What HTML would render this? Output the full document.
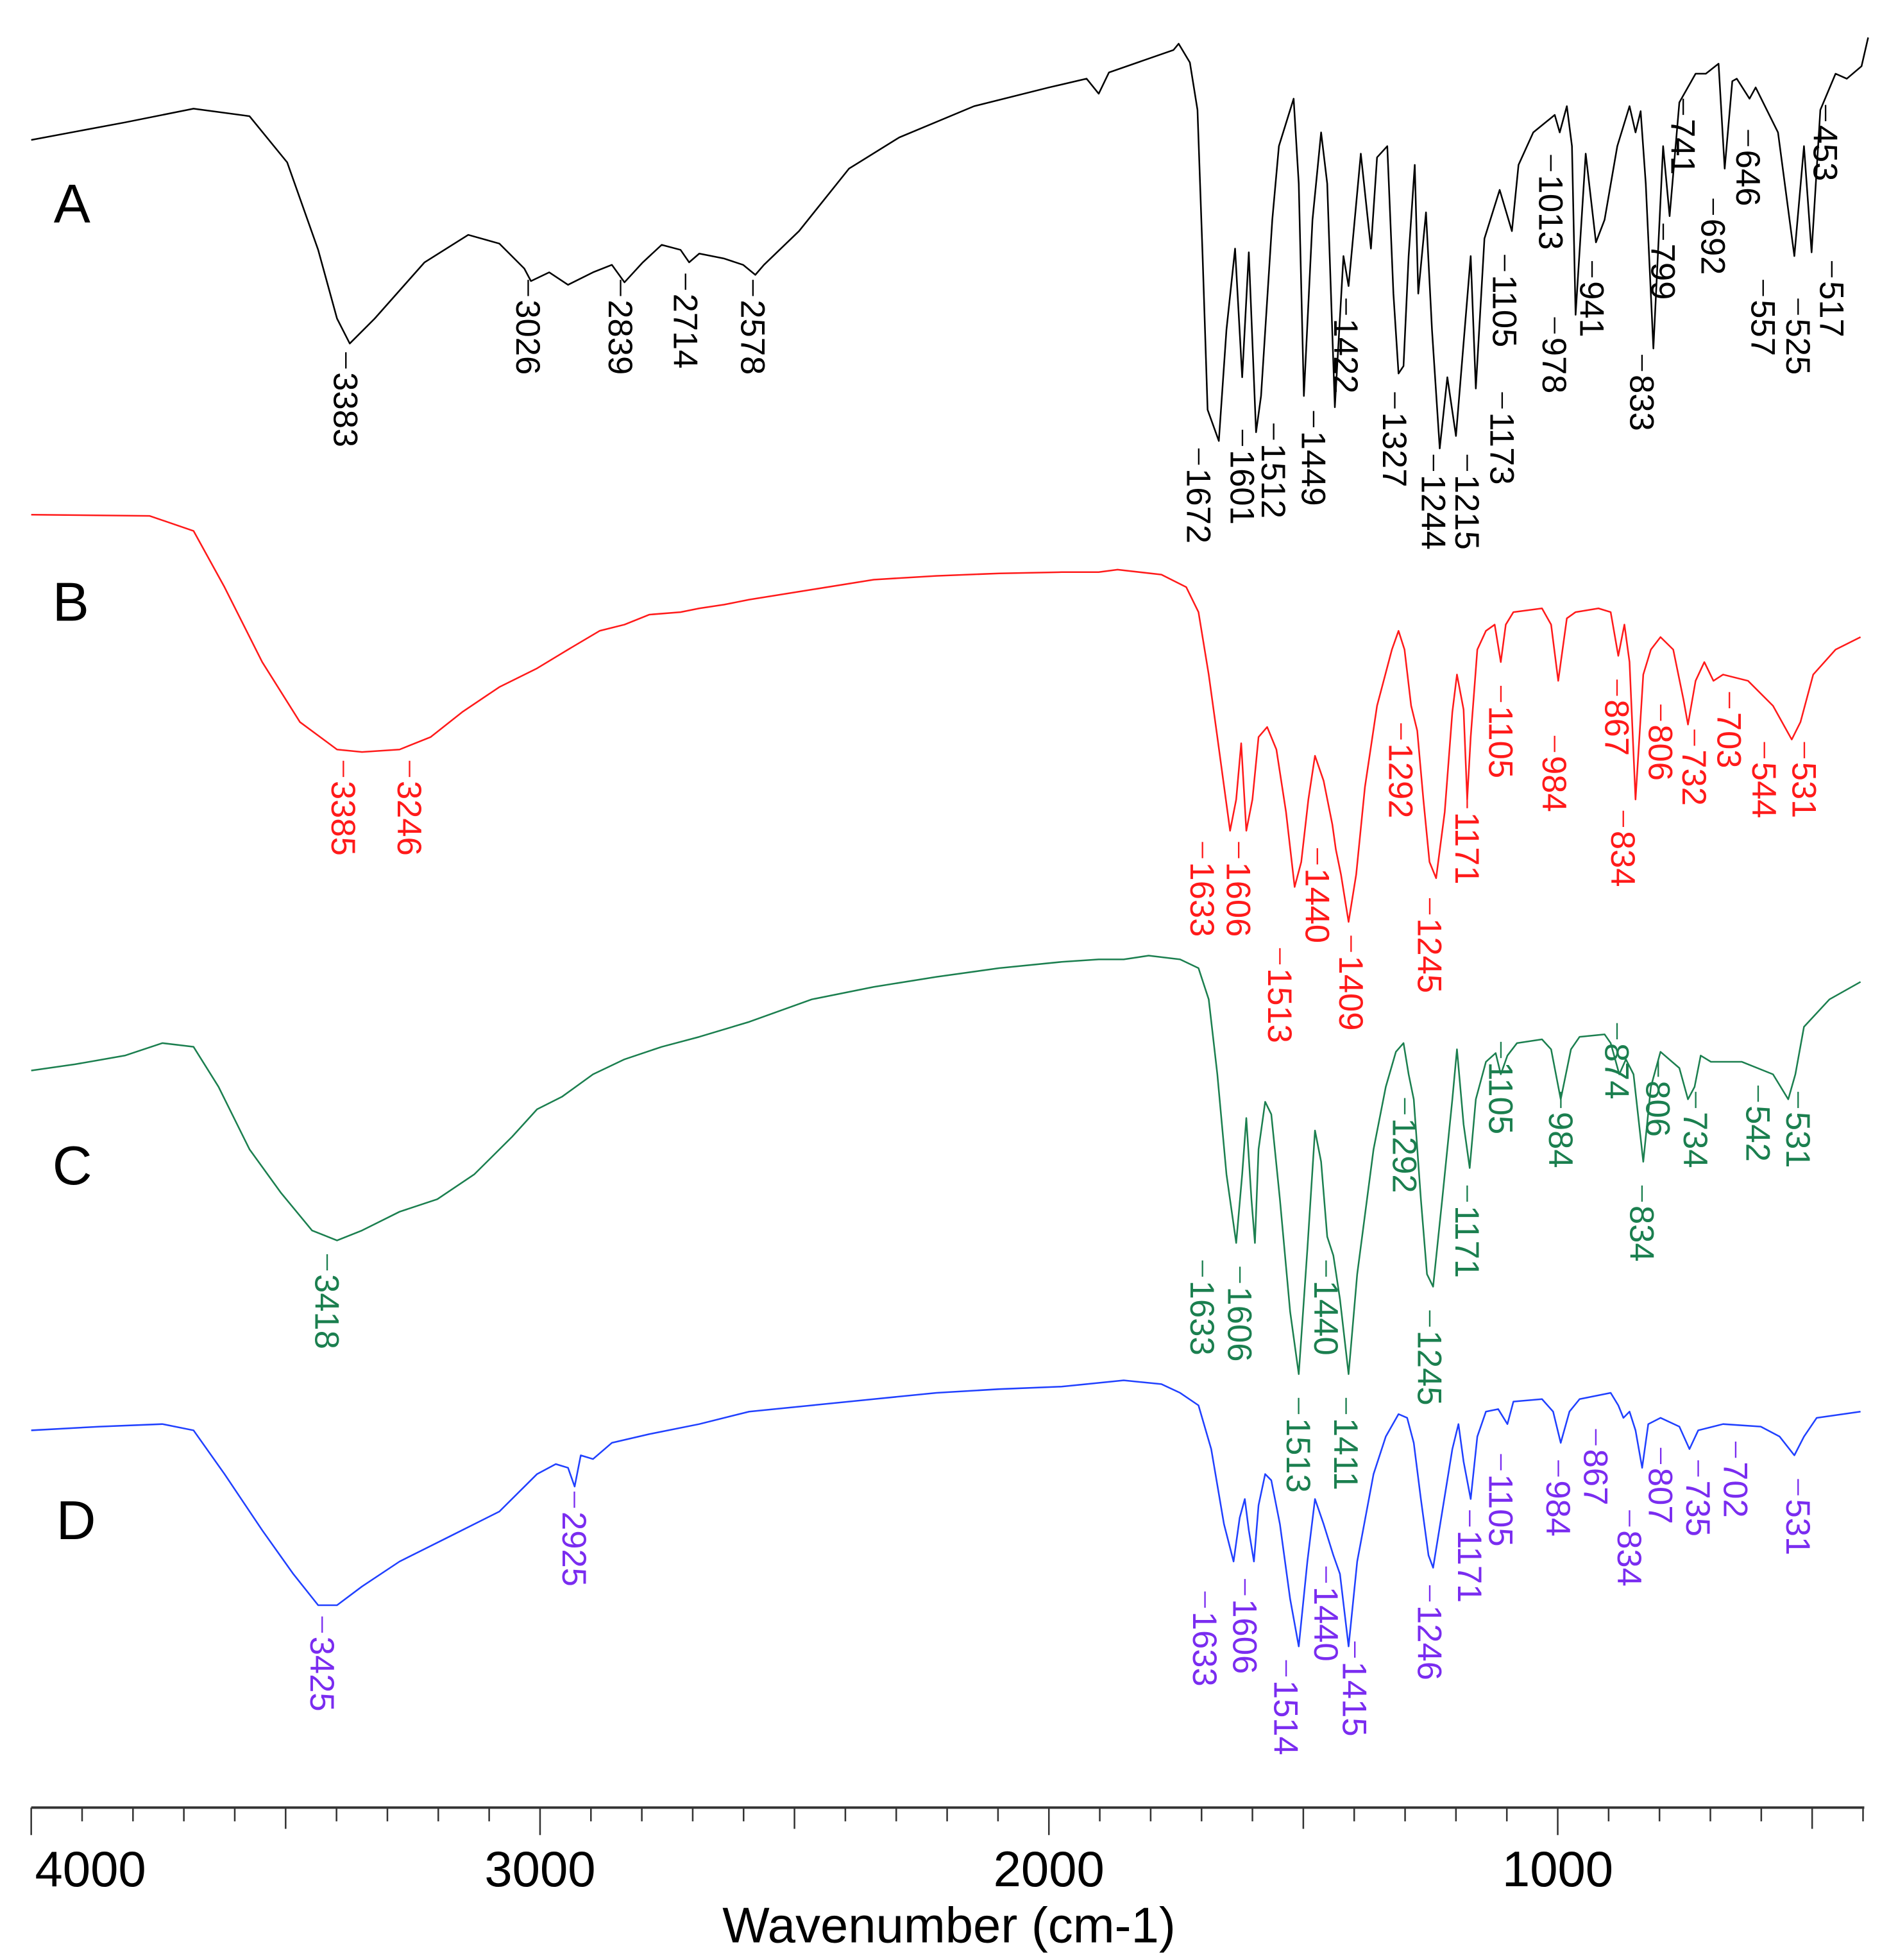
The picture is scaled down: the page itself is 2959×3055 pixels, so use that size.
<!DOCTYPE html>
<html><head><meta charset="utf-8"><style>
html,body{margin:0;padding:0;background:#fff;}
svg{display:block;}
text{font-family:"Liberation Sans",sans-serif;}
</style></head><body>
<svg id="chart" width="2959" height="3055" viewBox="0 0 1520 1569" preserveAspectRatio="none" xmlns="http://www.w3.org/2000/svg">
<g id="axis"></g>
<text x="760" y="1555" font-size="40" text-anchor="middle">Wavenumber (cm-1)</text>
<text x="43" y="178" font-size="44">A</text>
<text x="42" y="497" font-size="44">B</text>
<text x="42" y="948" font-size="44">C</text>
<text x="45" y="1232" font-size="44">D</text>
<g id="series"></g>
</svg>
<script>
const wnA=[4000,3816,3681,3571,3497,3436,3399,3374,3325,3227,3141,3080,3031,3018,2982,2945,2896,2859,2834,2798,2761,2724,2707,2687,2638,2601,2577,2560,2491,2393,2294,2147,2000,1926,1902,1882,1755,1745,1723,1708,1698,1688,1666,1651,1634,1620,1607,1593,1583,1561,1548,1519,1509,1499,1482,1465,1453,1438,1421,1411,1387,1367,1355,1335,1323,1313,1303,1293,1281,1274,1259,1247,1232,1217,1200,1171,1161,1144,1114,1090,1077,1048,1006,996,982,972,965,945,925,908,883,859,847,837,827,812,793,780,761,729,709,684,672,657,648,623,611,567,535,516,501,484,454,432,403,390];
const tA=[268,282,293,287,250,180,125,105,125,170,192,185,165,155,162,152,162,168,154,170,184,180,170,177,173,168,160,168,195,245,270,295,310,317,305,322,340,345,330,292,175,52,27,116,181,78,178,34,63,204,263,301,233,63,204,274,233,54,175,151,257,181,254,263,145,81,87,175,248,145,210,116,21,78,31,175,69,189,228,195,248,274,288,274,295,263,128,257,186,204,263,295,274,291,233,101,263,207,298,321,321,329,245,315,317,301,310,274,175,263,178,292,321,317,327,350];
const wnB=[4000,3767,3681,3620,3546,3472,3399,3350,3276,3215,3153,3080,3006,2945,2883,2834,2785,2724,2687,2638,2589,2466,2344,2221,2098,1975,1902,1865,1779,1730,1706,1686,1669,1644,1632,1622,1612,1600,1588,1571,1553,1534,1517,1504,1490,1477,1460,1443,1436,1426,1411,1396,1379,1355,1326,1313,1301,1288,1276,1264,1252,1239,1222,1207,1198,1185,1178,1171,1158,1141,1124,1112,1102,1087,1031,1013,999,982,965,920,896,881,869,859,847,832,817,798,773,753,744,729,712,694,675,626,577,540,523,498,454,405];
const tB=[348,347,335,290,230,182,160,158,160,170,190,210,225,240,255,260,268,270,273,276,280,288,296,299,301,302,302,304,300,290,270,220,170,95,120,165,95,120,170,178,160,110,50,70,120,155,135,100,80,60,22,60,130,195,240,255,240,195,175,120,70,57,110,190,220,192,120,170,240,255,260,230,260,270,273,260,215,265,270,273,270,235,260,230,120,220,240,250,240,200,180,215,230,215,220,215,195,168,182,220,240,250];
const wnC=[4000,3914,3816,3742,3681,3632,3571,3509,3448,3399,3350,3276,3202,3129,3055,3006,2957,2896,2834,2761,2687,2589,2466,2344,2221,2098,1975,1902,1853,1804,1742,1706,1686,1669,1651,1632,1620,1612,1602,1595,1588,1575,1563,1546,1526,1509,1492,1477,1465,1453,1441,1428,1411,1394,1362,1338,1318,1303,1293,1283,1269,1257,1245,1227,1207,1198,1185,1173,1161,1141,1122,1112,1099,1080,1031,1013,994,974,957,908,896,879,866,851,832,817,798,761,744,731,719,699,638,577,547,533,516,466,405];
const tC=[263,268,275,285,282,250,200,165,135,127,135,150,160,180,210,232,242,260,272,282,290,302,320,330,338,345,350,352,352,355,352,345,320,260,180,125,180,225,160,125,200,238,228,160,70,20,120,215,190,130,115,80,20,100,200,250,278,285,260,240,160,100,90,160,240,280,220,185,240,270,277,260,275,285,288,280,240,280,290,292,285,260,272,260,190,250,278,265,240,250,275,270,270,260,240,260,298,320,334];
const wnD=[4000,3865,3742,3681,3620,3546,3485,3436,3399,3350,3276,3178,3080,3006,2969,2945,2932,2920,2896,2859,2785,2687,2589,2466,2344,2221,2098,1975,1853,1779,1742,1706,1681,1656,1637,1625,1615,1607,1597,1588,1575,1563,1546,1526,1509,1492,1477,1460,1441,1428,1411,1394,1362,1338,1313,1296,1283,1269,1254,1245,1227,1207,1195,1185,1171,1158,1141,1117,1099,1087,1031,1009,994,977,957,896,881,871,859,847,834,822,798,761,741,724,675,601,564,535,516,491,405];
const tD=[195,198,200,195,160,115,80,55,55,70,90,110,130,160,168,165,150,175,172,185,192,200,210,215,220,225,228,230,235,232,225,215,180,120,90,125,140,115,90,135,160,155,120,60,22,90,140,120,95,80,22,90,160,190,208,205,185,140,95,85,130,180,200,170,140,190,210,212,200,218,220,210,185,210,220,225,215,205,210,195,165,200,205,198,180,195,200,198,190,175,190,205,210];
const labelsA=[3383,3026,2839,2714,2578,1672,1601,1512,1449,1422,1327,1244,1215,1173,1105,1013,978,941,833,799,741,692,646,557,525,517,453];
const labelTopA=[298,240,240,235,240,375,360,355,345,255,330,380,380,330,220,140,270,225,300,195,95,175,120,240,255,225,100];
const labelXA=[277,423,497,549,603,960,995,1020,1052,1078,1117,1148,1175,1203,1205,1242,1245,1275,1315,1332,1348,1372,1400,1412,1440,1467,1462];
const labelsB=[3385,3246,1633,1606,1513,1440,1409,1292,1245,1171,1105,984,867,834,806,732,703,544,531];
const labelTopB=[625,625,690,690,775,695,765,595,735,650,565,605,560,665,580,600,570,610,610];
const labelXB=[275,328,963,992,1025,1055,1082,1122,1145,1175,1202,1245,1295,1300,1330,1357,1385,1413,1445];
const labelsC=[3418,1633,1606,1513,1440,1411,1292,1245,1171,1105,984,874,834,806,734,542,531];
const labelTopC=[1020,1025,1030,1135,1025,1135,895,1065,965,850,890,835,965,865,890,885,890];
const labelXC=[262,963,993,1040,1062,1078,1125,1145,1175,1202,1250,1295,1315,1328,1358,1408,1440];
const labelsD=[3425,2925,1633,1606,1514,1440,1415,1246,1171,1105,984,867,834,807,735,702,531];
const labelTopD=[1310,1210,1290,1280,1345,1270,1330,1285,1225,1180,1185,1160,1225,1175,1185,1170,1200];
const labelXD=[258,460,965,997,1030,1062,1085,1145,1177,1202,1248,1278,1305,1330,1360,1390,1440];
const ticks=[4000,3000,2000,1000];

const NS="http://www.w3.org/2000/svg";
function xS(w){return 25+(4000-w)*0.4075;}
const axisY=1447;
const ax=document.getElementById('axis');
function mk(tag,attrs,parent){const e=document.createElementNS(NS,tag);for(const k in attrs)e.setAttribute(k,attrs[k]);parent.appendChild(e);return e;}
let al=mk('line',{x1:25,x2:1493,y1:axisY,y2:axisY,stroke:'#333','stroke-width':2},ax);


for(let w=4000;w>=400;w-=100){
  const len=(w%1000===0)?22:(w%500===0?17:11);
  const t=mk('line',{x1:xS(w),x2:xS(w),y1:axisY,y2:axisY+len,stroke:'#333','stroke-width':1.3},ax);
  
  
}
ticks.forEach(w=>{
  const t=mk('text',{x:w===4000?xS(w)+3:xS(w),y:1510,'font-size':40,'text-anchor':w===4000?'start':'middle'},ax);
  t.textContent=w;
  
  
});
const sg=document.getElementById('series');
function drawSeries(name,wn,tv,base,color,labels,tops,lx,lcolor){
  const g=mk('g',{},sg);
  
  
  let d='';
  wn.forEach((w,i)=>{d+=(i?'L':'M')+xS(w).toFixed(1)+' '+(base-tv[i]).toFixed(1);});
  const p=mk('path',{d:d,fill:'none',stroke:color,'stroke-width':1.3,'stroke-linejoin':'round'},g);
  
  
  labels.forEach((lb,i)=>{
    const x=lx[i],top=tops[i];
    const l=mk('line',{x1:x,x2:x,y1:top-16,y2:top-3,stroke:lcolor,'stroke-width':1.2},g);
    
    
    const t=mk('text',{x:0,y:0,'font-size':27,fill:lcolor,transform:'translate('+(x-9.5)+','+top+') rotate(90)'},g);
    t.textContent=lb;
    
    
  });
}
drawSeries('spectrum-a',wnA,tA,380,'#000',labelsA,labelTopA,labelXA,'#000');
drawSeries('spectrum-b',wnB,tB,760,'#ff1a1a',labelsB,labelTopB,labelXB,'#ff1a1a');
drawSeries('spectrum-c',wnC,tC,1120,'#1b7f4f',labelsC,labelTopC,labelXC,'#1b7f4f');
drawSeries('spectrum-d',wnD,tD,1340,'#2040ff',labelsD,labelTopD,labelXD,'#7a2cf0');
</script>
</body></html>
